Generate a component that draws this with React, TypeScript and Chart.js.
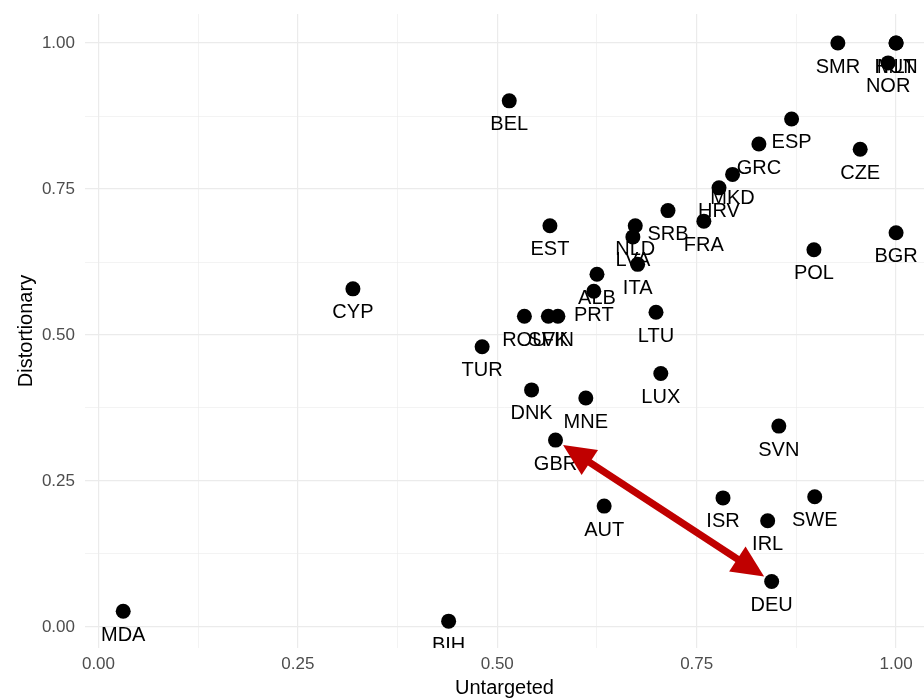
import React, { useEffect, useRef } from "react";
import { Chart, registerables } from "chart.js";

Chart.register(...registerables);

const FONT = '"Liberation Sans", Arial, Helvetica, sans-serif';

const countries = [
  "SMR", "HUN", "MLT", "NOR", "BEL", "ESP", "GRC", "CZE", "MKD", "HRV",
  "FRA", "BGR", "POL", "EST", "SRB", "NLD", "LVA", "ITA", "ALB", "PRT",
  "ROU", "SVK", "FIN", "LTU", "TUR", "LUX", "DNK", "MNE", "CYP", "GBR",
  "SVN", "AUT", "ISR", "SWE", "IRL", "DEU", "MDA", "BIH",
];
const untargeted = [
  0.927, 1.0, 1.0, 0.99, 0.515, 0.869, 0.828, 0.955, 0.795, 0.778,
  0.759, 1.0, 0.897, 0.566, 0.714, 0.673, 0.67, 0.676, 0.625, 0.621,
  0.534, 0.564, 0.576, 0.699, 0.481, 0.705, 0.543, 0.611, 0.319, 0.573,
  0.853, 0.634, 0.783, 0.898, 0.839, 0.844, 0.031, 0.439,
];
const distortionary = [
  1.0, 1.0, 1.0, 0.966, 0.901, 0.87, 0.827, 0.818, 0.775, 0.752,
  0.695, 0.675, 0.646, 0.687, 0.713, 0.687, 0.668, 0.621, 0.604, 0.575,
  0.532, 0.532, 0.532, 0.539, 0.48, 0.434, 0.406, 0.392, 0.579, 0.32,
  0.344, 0.207, 0.221, 0.223, 0.182, 0.078, 0.027, 0.01,
];
const gridValues = [0, 0.125, 0.25, 0.375, 0.5, 0.625, 0.75, 0.875, 1];
const arrowFrom = "GBR";
const arrowTo = "DEU";

const isMajor = (v: number) => Math.abs(v * 4 - Math.round(v * 4)) < 1e-6;

const annotatePlugin = {
  id: "annotate",
  beforeDatasetsDraw(chart: any) {
    const { ctx, chartArea } = chart;
    const xs = chart.scales.x;
    const ys = chart.scales.y;
    ctx.save();
    ctx.beginPath();
    ctx.rect(chartArea.left, chartArea.top, chartArea.right - chartArea.left, chartArea.bottom - chartArea.top);
    ctx.clip();
    ctx.font = `20px ${FONT}`;
    ctx.fillStyle = "#000000";
    ctx.textAlign = "center";
    ctx.textBaseline = "middle";
    countries.forEach((c, i) => {
      const px = xs.getPixelForValue(untargeted[i]);
      const py = ys.getPixelForValue(distortionary[i]);
      ctx.fillText(c, px, py + 24);
    });
    ctx.restore();
  },
  afterDatasetsDraw(chart: any) {
    const { ctx } = chart;
    const xs = chart.scales.x;
    const ys = chart.scales.y;
    const i1 = countries.indexOf(arrowFrom);
    const i2 = countries.indexOf(arrowTo);
    const p1 = { x: xs.getPixelForValue(untargeted[i1]), y: ys.getPixelForValue(distortionary[i1]) };
    const p2 = { x: xs.getPixelForValue(untargeted[i2]), y: ys.getPixelForValue(distortionary[i2]) };
    const dx = p2.x - p1.x;
    const dy = p2.y - p1.y;
    const len = Math.hypot(dx, dy);
    const ux = dx / len;
    const uy = dy / len;
    const r = 9;
    const a = { x: p1.x + ux * r, y: p1.y + uy * r };
    const b = { x: p2.x - ux * r, y: p2.y - uy * r };
    const headLen = 32;
    const headHalf = 15;
    const color = "#c00000";
    ctx.save();
    ctx.strokeStyle = color;
    ctx.fillStyle = color;
    ctx.lineWidth = 7;
    ctx.lineCap = "butt";
    ctx.beginPath();
    ctx.moveTo(a.x + ux * headLen * 0.8, a.y + uy * headLen * 0.8);
    ctx.lineTo(b.x - ux * headLen * 0.8, b.y - uy * headLen * 0.8);
    ctx.stroke();
    const head = (tip: { x: number; y: number }, dirx: number, diry: number) => {
      const bx = tip.x - dirx * headLen;
      const by = tip.y - diry * headLen;
      ctx.beginPath();
      ctx.moveTo(tip.x, tip.y);
      ctx.lineTo(bx - diry * headHalf, by + dirx * headHalf);
      ctx.lineTo(bx + diry * headHalf, by - dirx * headHalf);
      ctx.closePath();
      ctx.fill();
    };
    head(b, ux, uy);
    head(a, -ux, -uy);
    ctx.restore();
  },
};

export default function App() {
  const canvasRef = useRef<HTMLCanvasElement | null>(null);

  useEffect(() => {
    if (!canvasRef.current) return;
    const points = countries.map((_, i) => ({ x: untargeted[i], y: distortionary[i] }));
    const gridCfg = {
      color: "#ebebeb",
      lineWidth: (c: any) => (c.tick && isMajor(c.tick.value) ? 1.2 : 0.6),
      drawTicks: false,
    };
    const chart = new Chart(canvasRef.current, {
      type: "scatter",
      data: {
        datasets: [
          {
            data: points,
            backgroundColor: "#000000",
            borderWidth: 0,
            pointRadius: 7.5,
            pointHoverRadius: 7.5,
          },
        ],
      },
      options: {
        animation: false,
        responsive: false,
        devicePixelRatio: 1,
        layout: { autoPadding: false, padding: { top: 14, right: 0, bottom: 0, left: 0 } },
        plugins: { legend: { display: false }, tooltip: { enabled: false } },
        scales: {
          x: {
            type: "linear",
            min: -0.0169,
            max: 1.035,
            afterBuildTicks: (s: any) => {
              s.ticks = gridValues.map((v) => ({ value: v }));
            },
            afterFit: (s: any) => {
              s.height = 50;
              s.paddingLeft = 0;
              s.paddingRight = 0;
            },
            grid: gridCfg as any,
            border: { display: false },
            ticks: {
              autoSkip: false,
              maxRotation: 0,
              padding: 6,
              color: "#4d4d4d",
              font: { size: 17, family: FONT },
              callback: (v: any) => (isMajor(Number(v)) ? Number(v).toFixed(2) : ""),
            },
            title: {
              display: true,
              text: "Untargeted",
              color: "#000000",
              font: { size: 20, family: FONT, lineHeight: 1 },
              padding: { top: 0, bottom: 0 },
            },
          },
          y: {
            type: "linear",
            min: -0.036,
            max: 1.0497,
            afterBuildTicks: (s: any) => {
              s.ticks = gridValues.map((v) => ({ value: v }));
            },
            afterFit: (s: any) => {
              s.width = 85;
              s.paddingTop = 0;
              s.paddingBottom = 0;
            },
            grid: gridCfg as any,
            border: { display: false },
            ticks: {
              autoSkip: false,
              padding: 10,
              color: "#4d4d4d",
              font: { size: 17, family: FONT },
              callback: (v: any) => (isMajor(Number(v)) ? Number(v).toFixed(2) : ""),
            },
            title: {
              display: true,
              text: "Distortionary",
              color: "#000000",
              font: { size: 20, family: FONT, lineHeight: 1 },
              padding: { top: 16, bottom: 0 },
            },
          },
        },
      },
      plugins: [annotatePlugin],
    } as any);
    return () => chart.destroy();
  }, []);

  return (
    <div style={{ position: "absolute", left: 0, top: 0, width: 924, height: 698, background: "#ffffff" }}>
      <canvas ref={canvasRef} width={924} height={698} style={{ display: "block" }} />
    </div>
  );
}
